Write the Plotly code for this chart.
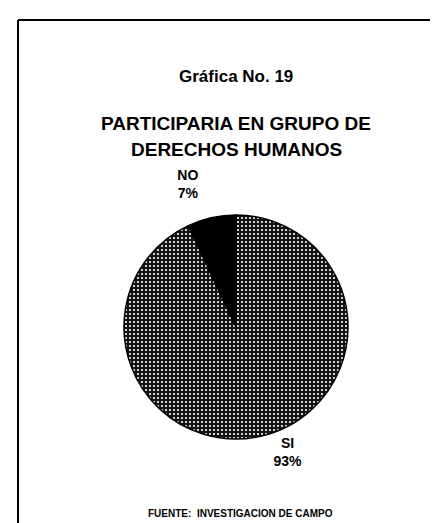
import plotly.graph_objects as go

categories = ["SI", "NO"]
values = [93, 7]
slice_colors = ["#141414", "#000000"]

title_top = "Gráfica No. 19"
title_lines = ["PARTICIPARIA EN GRUPO DE", "DERECHOS HUMANOS"]
source_note = "FUENTE:  INVESTIGACION DE CAMPO"

W, H = 438, 523
FONT = "Liberation Sans, Arial, sans-serif"

def py(pix):
    return 1 - pix / H

cx, cy, r = 228, 319, 112

fig = go.Figure(go.Pie(
    labels=categories,
    values=values,
    sort=False,
    direction="clockwise",
    rotation=0,
    textposition="outside",
    texttemplate="<b>%{label}</b><br><b>%{percent:.0%}</b><br> ",
    textfont=dict(family=FONT, size=14, color="black"),
    marker=dict(
        colors=slice_colors,
        line=dict(color="black", width=1.5),
        pattern=dict(shape=[".", ""], bgcolor=slice_colors, fgcolor="white",
                     fillmode="replace", size=4, solidity=0.22),
    ),
    showlegend=False,
    hoverinfo="label+percent",
    domain=dict(x=[(cx - r) / W, (cx + r) / W], y=[(H - cy - r) / H, (H - cy + r) / H]),
))

ann = [
    dict(text="<b>" + title_top + "</b>", x=228 / W, y=py(69), size=17),
    dict(text="<b>" + title_lines[0] + "</b>", x=228 / W, y=py(115), size=19),
    dict(text="<b>" + title_lines[1] + "</b>", x=228 / W, y=py(141), size=19),
    dict(text="<b>" + source_note + "</b>", x=232 / W, y=py(505), size=10),
]
fig.update_layout(
    width=W, height=H,
    margin=dict(l=0, r=0, t=0, b=0),
    paper_bgcolor="white", plot_bgcolor="white",
    annotations=[dict(text=a["text"], x=a["x"], y=a["y"], xref="paper", yref="paper",
                      xanchor="center", yanchor="middle", showarrow=False,
                      font=dict(family=FONT, size=a["size"], color="black")) for a in ann],
    shapes=[
        dict(type="line", xref="paper", yref="paper", x0=10 / W, x1=1, y0=py(12), y1=py(12),
             line=dict(color="black", width=2)),
        dict(type="line", xref="paper", yref="paper", x0=10 / W, x1=10 / W, y0=py(12), y1=0,
             line=dict(color="black", width=2)),
    ],
)

fig.write_html("out.html")
